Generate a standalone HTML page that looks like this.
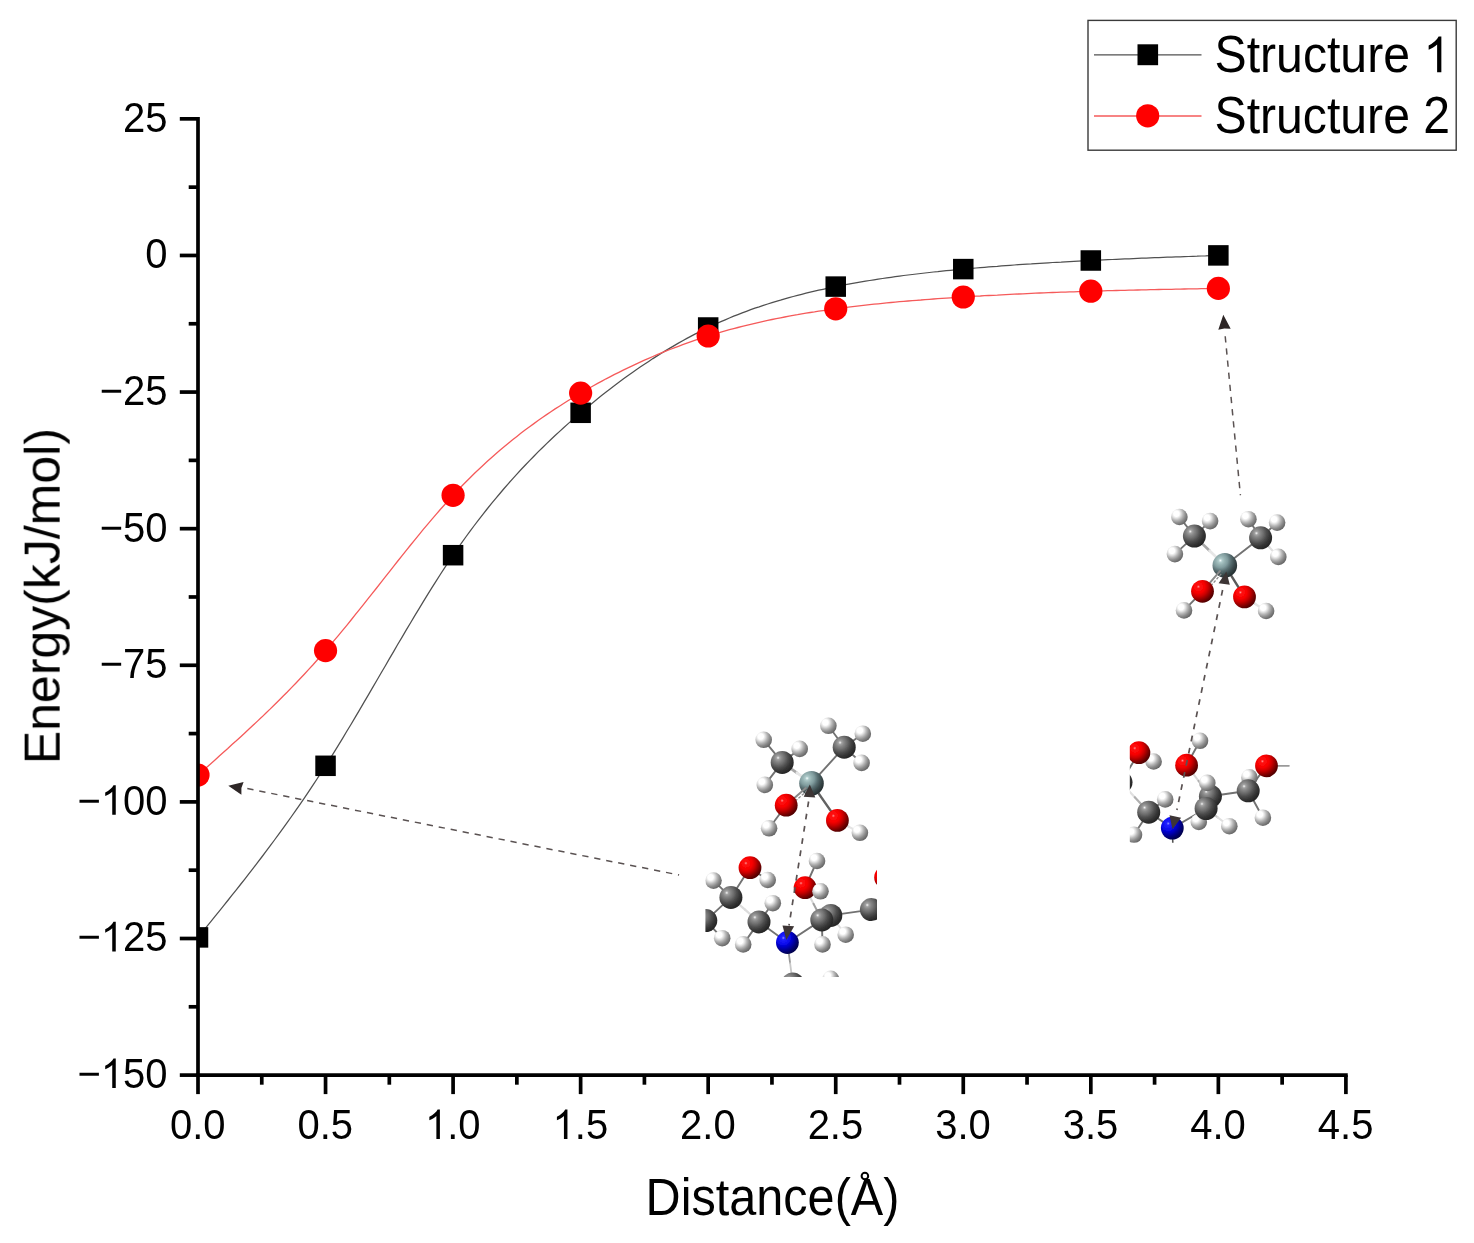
<!DOCTYPE html>
<html><head><meta charset="utf-8"><title>Energy vs Distance</title>
<style>html,body{margin:0;padding:0;background:#fff;}svg{display:block;}text{font-family:"Liberation Sans",sans-serif;fill:#000;}.t{opacity:0.999;}</style>
</head><body>
<svg width="1474" height="1243" viewBox="0 0 1474 1243">
<defs>
<radialGradient id="gH" cx="0.32" cy="0.3" r="0.84" fx="0.32" fy="0.3">
<stop offset="0" stop-color="#ffffff"/>
<stop offset="0.2" stop-color="#ffffff"/>
<stop offset="0.32" stop-color="#e2e2e2"/>
<stop offset="0.48" stop-color="#b6b6b6"/>
<stop offset="0.66" stop-color="#8c8c8c"/>
<stop offset="0.85" stop-color="#6a6a6a"/>
<stop offset="1" stop-color="#565656"/>
</radialGradient>
<radialGradient id="gC" cx="0.32" cy="0.3" r="0.84" fx="0.32" fy="0.3">
<stop offset="0" stop-color="#f8f8f8"/>
<stop offset="0.04" stop-color="#d0d0d0"/>
<stop offset="0.09" stop-color="#a2a2a2"/>
<stop offset="0.2" stop-color="#888888"/>
<stop offset="0.35" stop-color="#6e6e6e"/>
<stop offset="0.52" stop-color="#4e4e4e"/>
<stop offset="0.7" stop-color="#343434"/>
<stop offset="0.86" stop-color="#262626"/>
<stop offset="1" stop-color="#1e1e1e"/>
</radialGradient>
<radialGradient id="gO" cx="0.32" cy="0.3" r="0.84" fx="0.32" fy="0.3">
<stop offset="0" stop-color="#ffa0a0"/>
<stop offset="0.04" stop-color="#ff5050"/>
<stop offset="0.09" stop-color="#ff1010"/>
<stop offset="0.33" stop-color="#f80000"/>
<stop offset="0.5" stop-color="#cc0000"/>
<stop offset="0.66" stop-color="#940000"/>
<stop offset="0.82" stop-color="#5e0000"/>
<stop offset="1" stop-color="#400000"/>
</radialGradient>
<radialGradient id="gN" cx="0.32" cy="0.3" r="0.84" fx="0.32" fy="0.3">
<stop offset="0" stop-color="#a0a0ff"/>
<stop offset="0.04" stop-color="#5858ff"/>
<stop offset="0.09" stop-color="#2020ff"/>
<stop offset="0.33" stop-color="#0a0aec"/>
<stop offset="0.5" stop-color="#0000bc"/>
<stop offset="0.66" stop-color="#000088"/>
<stop offset="0.82" stop-color="#000058"/>
<stop offset="1" stop-color="#00003a"/>
</radialGradient>
<radialGradient id="gS" cx="0.32" cy="0.3" r="0.84" fx="0.32" fy="0.3">
<stop offset="0" stop-color="#f8ffff"/>
<stop offset="0.04" stop-color="#d4e6e6"/>
<stop offset="0.09" stop-color="#aecaca"/>
<stop offset="0.2" stop-color="#98b4b4"/>
<stop offset="0.35" stop-color="#809c9e"/>
<stop offset="0.52" stop-color="#586e71"/>
<stop offset="0.7" stop-color="#3a4a4c"/>
<stop offset="0.86" stop-color="#283234"/>
<stop offset="1" stop-color="#1e2628"/>
</radialGradient>
<filter id="soft" x="-5%" y="-5%" width="110%" height="110%"><feGaussianBlur stdDeviation="0.55"/></filter>
<clipPath id="plotclip"><rect x="198.0" y="0" width="1474" height="1075.1"/></clipPath>
<clipPath id="molA"><rect x="705.4" y="700" width="171.6" height="276.9"/></clipPath>
<clipPath id="molB"><rect x="1129.8" y="480" width="170" height="362.7"/></clipPath>
</defs>
<rect width="1474" height="1243" fill="#fff"/>
<g clip-path="url(#plotclip)">
<path d="M198.0,937.4 L202.3,932.2 L206.5,926.9 L210.8,921.7 L215.0,916.4 L219.3,911.1 L223.5,905.9 L227.8,900.5 L232.0,895.2 L236.3,889.9 L240.5,884.5 L244.8,879.1 L249.0,873.6 L253.3,868.1 L257.5,862.6 L261.8,857.0 L266.0,851.4 L270.3,845.7 L274.5,840.0 L278.8,834.2 L283.0,828.4 L287.3,822.4 L291.5,816.5 L295.8,810.4 L300.0,804.3 L304.3,798.1 L308.5,791.8 L312.8,785.4 L317.0,779.0 L321.3,772.4 L325.5,765.8 L329.8,759.1 L334.0,752.3 L338.3,745.4 L342.6,738.4 L346.8,731.3 L351.1,724.2 L355.3,717.1 L359.6,709.9 L363.8,702.6 L368.1,695.4 L372.3,688.1 L376.6,680.8 L380.8,673.5 L385.1,666.2 L389.3,658.9 L393.6,651.6 L397.8,644.3 L402.1,637.1 L406.3,629.9 L410.6,622.7 L414.8,615.6 L419.1,608.6 L423.3,601.6 L427.6,594.7 L431.8,587.9 L436.1,581.1 L440.3,574.5 L444.6,567.9 L448.8,561.5 L453.1,555.2 L457.3,549.0 L461.6,542.9 L465.8,537.0 L470.1,531.2 L474.3,525.5 L478.6,519.9 L482.9,514.4 L487.1,509.0 L491.4,503.7 L495.6,498.6 L499.9,493.5 L504.1,488.5 L508.4,483.6 L512.6,478.8 L516.9,474.1 L521.1,469.5 L525.4,465.0 L529.6,460.6 L533.9,456.2 L538.1,451.9 L542.4,447.7 L546.6,443.6 L550.9,439.5 L555.1,435.5 L559.4,431.6 L563.6,427.7 L567.9,423.9 L572.1,420.1 L576.4,416.4 L580.6,412.8 L584.9,409.2 L589.1,405.7 L593.4,402.2 L597.6,398.7 L601.9,395.3 L606.1,392.0 L610.4,388.7 L614.6,385.4 L618.9,382.3 L623.2,379.1 L627.4,376.0 L631.7,373.0 L635.9,370.0 L640.2,367.1 L644.4,364.2 L648.7,361.4 L652.9,358.6 L657.2,355.9 L661.4,353.2 L665.7,350.6 L669.9,348.1 L674.2,345.6 L678.4,343.1 L682.7,340.7 L686.9,338.4 L691.2,336.1 L695.4,333.9 L699.7,331.7 L703.9,329.6 L708.2,327.5 L712.4,325.5 L716.7,323.5 L720.9,321.6 L725.2,319.8 L729.4,318.0 L733.7,316.2 L737.9,314.6 L742.2,312.9 L746.4,311.3 L750.7,309.7 L754.9,308.2 L759.2,306.8 L763.4,305.3 L767.7,304.0 L772.0,302.6 L776.2,301.3 L780.5,300.1 L784.7,298.8 L789.0,297.6 L793.2,296.5 L797.5,295.4 L801.7,294.3 L806.0,293.2 L810.2,292.2 L814.5,291.2 L818.7,290.2 L823.0,289.3 L827.2,288.4 L831.5,287.5 L835.7,286.6 L840.0,285.8 L844.2,284.9 L848.5,284.1 L852.7,283.4 L857.0,282.6 L861.2,281.9 L865.5,281.2 L869.7,280.5 L874.0,279.8 L878.2,279.1 L882.5,278.5 L886.7,277.9 L891.0,277.3 L895.2,276.7 L899.5,276.1 L903.7,275.5 L908.0,275.0 L912.3,274.5 L916.5,274.0 L920.8,273.5 L925.0,273.0 L929.3,272.5 L933.5,272.0 L937.8,271.6 L942.0,271.1 L946.3,270.7 L950.5,270.3 L954.8,269.9 L959.0,269.5 L963.3,269.1 L967.5,268.7 L971.8,268.3 L976.0,268.0 L980.3,267.6 L984.5,267.3 L988.8,266.9 L993.0,266.6 L997.3,266.3 L1001.5,265.9 L1005.8,265.6 L1010.0,265.3 L1014.3,265.0 L1018.5,264.7 L1022.8,264.4 L1027.0,264.1 L1031.3,263.9 L1035.5,263.6 L1039.8,263.3 L1044.0,263.1 L1048.3,262.8 L1052.6,262.5 L1056.8,262.3 L1061.1,262.1 L1065.3,261.8 L1069.6,261.6 L1073.8,261.4 L1078.1,261.1 L1082.3,260.9 L1086.6,260.7 L1090.8,260.5 L1095.1,260.3 L1099.3,260.1 L1103.6,259.9 L1107.8,259.7 L1112.1,259.5 L1116.3,259.3 L1120.6,259.1 L1124.8,258.9 L1129.1,258.8 L1133.3,258.6 L1137.6,258.4 L1141.8,258.2 L1146.1,258.1 L1150.3,257.9 L1154.6,257.7 L1158.8,257.6 L1163.1,257.4 L1167.3,257.2 L1171.6,257.1 L1175.8,256.9 L1180.1,256.8 L1184.3,256.6 L1188.6,256.5 L1192.9,256.3 L1197.1,256.2 L1201.4,256.0 L1205.6,255.9 L1209.9,255.7 L1214.1,255.6 L1218.4,255.4" fill="none" stroke="#505050" stroke-width="1.25"/>
<rect x="187.75" y="927.15" width="20.5" height="20.5" fill="#000"/>
<rect x="315.30" y="755.55" width="20.5" height="20.5" fill="#000"/>
<rect x="442.84" y="544.95" width="20.5" height="20.5" fill="#000"/>
<rect x="570.38" y="402.55" width="20.5" height="20.5" fill="#000"/>
<rect x="697.93" y="317.25" width="20.5" height="20.5" fill="#000"/>
<rect x="825.48" y="276.35" width="20.5" height="20.5" fill="#000"/>
<rect x="953.02" y="258.85" width="20.5" height="20.5" fill="#000"/>
<rect x="1080.57" y="250.25" width="20.5" height="20.5" fill="#000"/>
<rect x="1208.11" y="245.15" width="20.5" height="20.5" fill="#000"/>
<path d="M198.0,775.0 L202.3,771.2 L206.5,767.5 L210.8,763.7 L215.0,759.9 L219.3,756.1 L223.5,752.3 L227.8,748.5 L232.0,744.6 L236.3,740.8 L240.5,736.9 L244.8,733.0 L249.0,729.1 L253.3,725.1 L257.5,721.1 L261.8,717.1 L266.0,713.0 L270.3,708.9 L274.5,704.7 L278.8,700.5 L283.0,696.3 L287.3,692.0 L291.5,687.6 L295.8,683.2 L300.0,678.8 L304.3,674.2 L308.5,669.6 L312.8,665.0 L317.0,660.3 L321.3,655.5 L325.5,650.6 L329.8,645.7 L334.0,640.6 L338.3,635.6 L342.6,630.4 L346.8,625.3 L351.1,620.0 L355.3,614.7 L359.6,609.4 L363.8,604.1 L368.1,598.7 L372.3,593.4 L376.6,588.0 L380.8,582.6 L385.1,577.2 L389.3,571.8 L393.6,566.4 L397.8,561.0 L402.1,555.7 L406.3,550.3 L410.6,545.0 L414.8,539.8 L419.1,534.6 L423.3,529.4 L427.6,524.4 L431.8,519.3 L436.1,514.4 L440.3,509.5 L444.6,504.7 L448.8,499.9 L453.1,495.3 L457.3,490.8 L461.6,486.3 L465.8,482.0 L470.1,477.7 L474.3,473.5 L478.6,469.5 L482.9,465.5 L487.1,461.6 L491.4,457.7 L495.6,454.0 L499.9,450.3 L504.1,446.7 L508.4,443.2 L512.6,439.8 L516.9,436.4 L521.1,433.1 L525.4,429.8 L529.6,426.7 L533.9,423.6 L538.1,420.5 L542.4,417.5 L546.6,414.6 L550.9,411.7 L555.1,408.9 L559.4,406.2 L563.6,403.5 L567.9,400.8 L572.1,398.2 L576.4,395.6 L580.6,393.1 L584.9,390.6 L589.1,388.2 L593.4,385.8 L597.6,383.4 L601.9,381.1 L606.1,378.8 L610.4,376.6 L614.6,374.4 L618.9,372.3 L623.2,370.2 L627.4,368.1 L631.7,366.1 L635.9,364.1 L640.2,362.1 L644.4,360.2 L648.7,358.3 L652.9,356.5 L657.2,354.7 L661.4,352.9 L665.7,351.2 L669.9,349.5 L674.2,347.9 L678.4,346.3 L682.7,344.7 L686.9,343.1 L691.2,341.6 L695.4,340.2 L699.7,338.7 L703.9,337.4 L708.2,336.0 L712.4,334.7 L716.7,333.4 L720.9,332.1 L725.2,330.9 L729.4,329.7 L733.7,328.6 L737.9,327.5 L742.2,326.4 L746.4,325.3 L750.7,324.3 L754.9,323.3 L759.2,322.3 L763.4,321.3 L767.7,320.4 L772.0,319.5 L776.2,318.7 L780.5,317.8 L784.7,317.0 L789.0,316.2 L793.2,315.4 L797.5,314.7 L801.7,313.9 L806.0,313.2 L810.2,312.5 L814.5,311.9 L818.7,311.2 L823.0,310.6 L827.2,310.0 L831.5,309.4 L835.7,308.8 L840.0,308.2 L844.2,307.7 L848.5,307.1 L852.7,306.6 L857.0,306.1 L861.2,305.6 L865.5,305.1 L869.7,304.7 L874.0,304.2 L878.2,303.8 L882.5,303.3 L886.7,302.9 L891.0,302.5 L895.2,302.1 L899.5,301.7 L903.7,301.4 L908.0,301.0 L912.3,300.6 L916.5,300.3 L920.8,300.0 L925.0,299.6 L929.3,299.3 L933.5,299.0 L937.8,298.7 L942.0,298.4 L946.3,298.1 L950.5,297.8 L954.8,297.5 L959.0,297.3 L963.3,297.0 L967.5,296.7 L971.8,296.5 L976.0,296.2 L980.3,296.0 L984.5,295.7 L988.8,295.5 L993.0,295.3 L997.3,295.1 L1001.5,294.8 L1005.8,294.6 L1010.0,294.4 L1014.3,294.2 L1018.5,294.0 L1022.8,293.8 L1027.0,293.6 L1031.3,293.4 L1035.5,293.2 L1039.8,293.0 L1044.0,292.9 L1048.3,292.7 L1052.6,292.5 L1056.8,292.4 L1061.1,292.2 L1065.3,292.1 L1069.6,291.9 L1073.8,291.8 L1078.1,291.6 L1082.3,291.5 L1086.6,291.3 L1090.8,291.2 L1095.1,291.1 L1099.3,290.9 L1103.6,290.8 L1107.8,290.7 L1112.1,290.6 L1116.3,290.5 L1120.6,290.4 L1124.8,290.3 L1129.1,290.2 L1133.3,290.1 L1137.6,290.0 L1141.8,289.9 L1146.1,289.8 L1150.3,289.7 L1154.6,289.6 L1158.8,289.5 L1163.1,289.4 L1167.3,289.3 L1171.6,289.3 L1175.8,289.2 L1180.1,289.1 L1184.3,289.0 L1188.6,288.9 L1192.9,288.9 L1197.1,288.8 L1201.4,288.7 L1205.6,288.6 L1209.9,288.5 L1214.1,288.5 L1218.4,288.4" fill="none" stroke="#f55a5a" stroke-width="1.3"/>
<circle cx="198.00" cy="775.00" r="11.6" fill="#ff0000"/>
<circle cx="325.55" cy="650.60" r="11.6" fill="#ff0000"/>
<circle cx="453.09" cy="495.30" r="11.6" fill="#ff0000"/>
<circle cx="580.63" cy="393.10" r="11.6" fill="#ff0000"/>
<circle cx="708.18" cy="336.00" r="11.6" fill="#ff0000"/>
<circle cx="835.73" cy="308.80" r="11.6" fill="#ff0000"/>
<circle cx="963.27" cy="297.00" r="11.6" fill="#ff0000"/>
<circle cx="1090.82" cy="291.20" r="11.6" fill="#ff0000"/>
<circle cx="1218.36" cy="288.40" r="11.6" fill="#ff0000"/>
</g>
<g stroke="#000" stroke-width="3.7" fill="none" stroke-linecap="butt">
<path d="M198.0,117.00 V1076.95"/>
<path d="M196.15,1075.11 H1347.75"/>
<path d="M179.80,118.85 H198.00"/>
<path d="M188.70,187.16 H198.00"/>
<path d="M179.80,255.46 H198.00"/>
<path d="M188.70,323.76 H198.00"/>
<path d="M179.80,392.07 H198.00"/>
<path d="M188.70,460.37 H198.00"/>
<path d="M179.80,528.67 H198.00"/>
<path d="M188.70,596.98 H198.00"/>
<path d="M179.80,665.28 H198.00"/>
<path d="M188.70,733.59 H198.00"/>
<path d="M179.80,801.89 H198.00"/>
<path d="M188.70,870.19 H198.00"/>
<path d="M179.80,938.50 H198.00"/>
<path d="M188.70,1006.80 H198.00"/>
<path d="M179.80,1075.11 H198.00"/>
<path d="M198.00,1075.11 V1094.11"/>
<path d="M261.77,1075.11 V1084.70"/>
<path d="M325.55,1075.11 V1094.11"/>
<path d="M389.32,1075.11 V1084.70"/>
<path d="M453.09,1075.11 V1094.11"/>
<path d="M516.86,1075.11 V1084.70"/>
<path d="M580.63,1075.11 V1094.11"/>
<path d="M644.41,1075.11 V1084.70"/>
<path d="M708.18,1075.11 V1094.11"/>
<path d="M771.95,1075.11 V1084.70"/>
<path d="M835.73,1075.11 V1094.11"/>
<path d="M899.50,1075.11 V1084.70"/>
<path d="M963.27,1075.11 V1094.11"/>
<path d="M1027.04,1075.11 V1084.70"/>
<path d="M1090.82,1075.11 V1094.11"/>
<path d="M1154.59,1075.11 V1084.70"/>
<path d="M1218.36,1075.11 V1094.11"/>
<path d="M1282.13,1075.11 V1084.70"/>
<path d="M1345.90,1075.11 V1094.11"/>
</g>
<g class="t">
<text transform="translate(167.60,131.75) scale(1.0000,1.0500)" font-size="40" text-anchor="end">25</text>
<text transform="translate(167.60,268.36) scale(1.0000,1.0500)" font-size="40" text-anchor="end">0</text>
<text transform="translate(167.60,404.97) scale(1.0000,1.0500)" font-size="40" text-anchor="end">−25</text>
<text transform="translate(167.60,541.57) scale(1.0000,1.0500)" font-size="40" text-anchor="end">−50</text>
<text transform="translate(167.60,678.18) scale(1.0000,1.0500)" font-size="40" text-anchor="end">−75</text>
<g transform="translate(167.60,814.79)"><text transform="scale(1.0000,1.0500)" font-size="40" x="-90.10 -66.74 -44.49 -22.25" y="0">− 00</text><path transform="translate(-66.74,0) scale(0.01953,-0.02012)" d="M763,0 L583,0 L583,1147 Q518,1085 412.5,1023 Q307,961 223,930 L223,1104 Q374,1175 487,1276 Q600,1377 647,1472 L763,1472 Z" fill="#000"/></g>
<g transform="translate(167.60,951.40)"><text transform="scale(1.0000,1.0500)" font-size="40" x="-90.10 -66.74 -44.49 -22.25" y="0">− 25</text><path transform="translate(-66.74,0) scale(0.01953,-0.02012)" d="M763,0 L583,0 L583,1147 Q518,1085 412.5,1023 Q307,961 223,930 L223,1104 Q374,1175 487,1276 Q600,1377 647,1472 L763,1472 Z" fill="#000"/></g>
<g transform="translate(167.60,1088.01)"><text transform="scale(1.0000,1.0500)" font-size="40" x="-90.10 -66.74 -44.49 -22.25" y="0">− 50</text><path transform="translate(-66.74,0) scale(0.01953,-0.02012)" d="M763,0 L583,0 L583,1147 Q518,1085 412.5,1023 Q307,961 223,930 L223,1104 Q374,1175 487,1276 Q600,1377 647,1472 L763,1472 Z" fill="#000"/></g>
<text transform="translate(197.70,1139.00) scale(1.0000,1.0500)" font-size="40" text-anchor="middle">0.0</text>
<text transform="translate(325.25,1139.00) scale(1.0000,1.0500)" font-size="40" text-anchor="middle">0.5</text>
<g transform="translate(452.79,1139.00)"><text transform="scale(1.0000,1.0500)" font-size="40" x="-27.80 -5.56 5.56" y="0"> .0</text><path transform="translate(-27.80,0) scale(0.01953,-0.02012)" d="M763,0 L583,0 L583,1147 Q518,1085 412.5,1023 Q307,961 223,930 L223,1104 Q374,1175 487,1276 Q600,1377 647,1472 L763,1472 Z" fill="#000"/></g>
<g transform="translate(580.34,1139.00)"><text transform="scale(1.0000,1.0500)" font-size="40" x="-27.80 -5.56 5.56" y="0"> .5</text><path transform="translate(-27.80,0) scale(0.01953,-0.02012)" d="M763,0 L583,0 L583,1147 Q518,1085 412.5,1023 Q307,961 223,930 L223,1104 Q374,1175 487,1276 Q600,1377 647,1472 L763,1472 Z" fill="#000"/></g>
<text transform="translate(707.88,1139.00) scale(1.0000,1.0500)" font-size="40" text-anchor="middle">2.0</text>
<text transform="translate(835.43,1139.00) scale(1.0000,1.0500)" font-size="40" text-anchor="middle">2.5</text>
<text transform="translate(962.97,1139.00) scale(1.0000,1.0500)" font-size="40" text-anchor="middle">3.0</text>
<text transform="translate(1090.52,1139.00) scale(1.0000,1.0500)" font-size="40" text-anchor="middle">3.5</text>
<text transform="translate(1218.06,1139.00) scale(1.0000,1.0500)" font-size="40" text-anchor="middle">4.0</text>
<text transform="translate(1345.61,1139.00) scale(1.0000,1.0500)" font-size="40" text-anchor="middle">4.5</text>
<text transform="translate(772.50,1215.30) scale(1.0000,1.0700)" font-size="48.6" text-anchor="middle">Distance(A)</text>
<circle cx="864.9" cy="1176.0" r="3.3" fill="none" stroke="#000" stroke-width="2.0"/>
<text transform="translate(59.20,596.15) rotate(-90) scale(1.0000,1.0120)" font-size="50.0" text-anchor="middle">Energy(kJ/mol)</text>
</g>
<rect x="1088.0" y="20.4" width="368.2" height="129.8" fill="#fff" stroke="#3a3a3a" stroke-width="1.4"/>
<path d="M1094,54.9 H1201.5" stroke="#505050" stroke-width="1.25"/>
<rect x="1137.5" y="44.3" width="20.6" height="20.9" fill="#000"/>
<path d="M1094,116.0 H1201.5" stroke="#f55a5a" stroke-width="1.3"/>
<circle cx="1147.7" cy="115.8" r="11.6" fill="#ff0000"/>
<g transform="translate(1214.50,72.30)"><text transform="scale(1.0000,1.0920)" font-size="48.19" x="0.00 32.14 45.53 61.58 88.38 112.47 125.86 152.66 168.71 195.51 208.90" y="0">Structure  </text><path transform="translate(208.90,0) scale(0.02353,-0.02424)" d="M763,0 L583,0 L583,1147 Q518,1085 412.5,1023 Q307,961 223,930 L223,1104 Q374,1175 487,1276 Q600,1377 647,1472 L763,1472 Z" fill="#000"/></g>
<text transform="translate(1214.50,132.90) scale(1.0000,1.0920)" font-size="48.19" text-anchor="start">Structure 2</text>
<path d="M247.3,788.6 L679.1,875.0" stroke="#5a5252" stroke-width="1.5" stroke-dasharray="6.3 5.9" fill="none"/>
<path d="M228.3,785.8 L243.6,782.0 L241.4,788.1 L241.4,794.7 Z" fill="#2e2727"/>
<path d="M1225.2,336.2 L1240.4,495.2" stroke="#5a5252" stroke-width="1.5" stroke-dasharray="6.3 5.9" fill="none"/>
<path d="M1223.3,314.8 L1218.3,329.7 L1224.3,328.5 L1230.7,328.7 Z" fill="#2e2727"/>
<g clip-path="url(#molA)"><g filter="url(#soft)">
<path d="M844.2,747.2 L828.4,725.8" stroke="#727272" stroke-width="1.9" stroke-linecap="round"/>
<path d="M844.2,747.2 L862.8,733.7" stroke="#727272" stroke-width="1.9" stroke-linecap="round"/>
<path d="M844.2,747.2 L861.6,762.9" stroke="#727272" stroke-width="1.9" stroke-linecap="round"/>
<path d="M782.2,762.4 L763.7,739.8" stroke="#727272" stroke-width="1.9" stroke-linecap="round"/>
<path d="M782.2,762.4 L799.7,748.9" stroke="#727272" stroke-width="1.9" stroke-linecap="round"/>
<path d="M782.2,762.4 L764.8,784.9" stroke="#727272" stroke-width="1.9" stroke-linecap="round"/>
<path d="M786.2,805.2 L769.1,828.3" stroke="#727272" stroke-width="1.9" stroke-linecap="round"/>
<path d="M844.2,747.2 L811.5,783.2" stroke="#727272" stroke-width="1.9" stroke-linecap="round"/>
<path d="M782.2,762.4 L796.9,772.8" stroke="#a8a8a8" stroke-width="2.7" stroke-linecap="round"/><path d="M796.9,772.8 L811.5,783.2" stroke="#e6e6e6" stroke-width="2.7" stroke-linecap="round"/>
<path d="M811.5,783.2 L837.4,820.4" stroke="#626262" stroke-width="2.4" stroke-linecap="round"/>
<path d="M837.4,820.4 L848.6,826.6" stroke="#d0d0d0" stroke-width="2.2" stroke-linecap="round"/><path d="M848.6,826.6 L859.9,832.8" stroke="#e4e4e4" stroke-width="2.2" stroke-linecap="round"/>
<circle cx="763.7" cy="739.8" r="8.3" fill="url(#gH)"/>
<circle cx="799.7" cy="748.9" r="8.3" fill="url(#gH)"/>
<circle cx="828.4" cy="725.8" r="8.3" fill="url(#gH)"/>
<circle cx="862.8" cy="733.7" r="8.3" fill="url(#gH)"/>
<circle cx="861.6" cy="762.9" r="8.3" fill="url(#gH)"/>
<circle cx="844.2" cy="747.2" r="11.5" fill="url(#gC)"/>
<circle cx="782.2" cy="762.4" r="11.5" fill="url(#gC)"/>
<circle cx="764.8" cy="784.9" r="8.3" fill="url(#gH)"/>
<circle cx="769.1" cy="828.3" r="8.3" fill="url(#gH)"/>
<circle cx="859.9" cy="832.8" r="8.3" fill="url(#gH)"/>
<circle cx="811.5" cy="783.2" r="12.3" fill="url(#gS)"/>
<path d="M805.8,788.1 L786.2,805.2" stroke="#8a8a8a" stroke-width="2.0" stroke-linecap="round"/>
<path d="M795.2,801.1 L808.1,789.9" stroke="#8c8c8c" stroke-width="1.3" stroke-dasharray="2.8 1.6" fill="none"/>
<circle cx="786.2" cy="805.2" r="11.4" fill="url(#gO)"/>
<circle cx="837.4" cy="820.4" r="11.4" fill="url(#gO)"/>
<path d="M750.0,867.7 L730.9,897.4" stroke="#727272" stroke-width="1.9" stroke-linecap="round"/>
<path d="M730.9,897.4 L713.5,880.6" stroke="#727272" stroke-width="1.9" stroke-linecap="round"/>
<path d="M730.9,897.4 L705.8,920.6" stroke="#727272" stroke-width="1.9" stroke-linecap="round"/>
<path d="M705.8,920.6 L722.2,938.2" stroke="#727272" stroke-width="1.9" stroke-linecap="round"/>
<path d="M759.0,921.9 L772.8,903.2" stroke="#727272" stroke-width="1.9" stroke-linecap="round"/>
<path d="M759.0,921.9 L743.2,944.4" stroke="#727272" stroke-width="1.9" stroke-linecap="round"/>
<path d="M759.0,921.9 L787.4,942.5" stroke="#727272" stroke-width="1.9" stroke-linecap="round"/>
<path d="M787.4,942.5 L821.8,919.9" stroke="#727272" stroke-width="1.9" stroke-linecap="round"/>
<path d="M805.1,887.7 L817.0,861.0" stroke="#727272" stroke-width="1.9" stroke-linecap="round"/>
<path d="M830.8,915.4 L871.4,909.6" stroke="#727272" stroke-width="1.9" stroke-linecap="round"/>
<path d="M821.8,919.9 L822.5,944.4" stroke="#727272" stroke-width="1.9" stroke-linecap="round"/>
<path d="M750.0,867.7 L767.7,880.0" stroke="#727272" stroke-width="1.9" stroke-linecap="round"/>
<path d="M730.9,897.4 L745.0,909.6" stroke="#dcdcdc" stroke-width="2.2" stroke-linecap="round"/><path d="M745.0,909.6 L759.0,921.9" stroke="#dcdcdc" stroke-width="2.2" stroke-linecap="round"/>
<path d="M830.8,915.4 L838.2,925.0" stroke="#c8c8c8" stroke-width="2.0" stroke-linecap="round"/><path d="M838.2,925.0 L845.7,934.7" stroke="#e0e0e0" stroke-width="2.0" stroke-linecap="round"/>
<path d="M787.4,942.5 L790.1,963.2" stroke="#9a9a9a" stroke-width="1.8" stroke-linecap="round"/><path d="M790.1,963.2 L792.8,984.0" stroke="#c8c8c8" stroke-width="1.8" stroke-linecap="round"/>
<path d="M805.1,887.7 L813.5,903.8" stroke="#d8d8d8" stroke-width="2.0" stroke-linecap="round"/><path d="M813.5,903.8 L821.8,919.9" stroke="#a0a0a0" stroke-width="2.0" stroke-linecap="round"/>
<circle cx="885.6" cy="877.4" r="11.4" fill="url(#gO)"/>
<circle cx="871.4" cy="909.6" r="11.5" fill="url(#gC)"/>
<circle cx="830.8" cy="915.4" r="11.5" fill="url(#gC)"/>
<circle cx="845.7" cy="934.7" r="8.3" fill="url(#gH)"/>
<circle cx="822.5" cy="944.4" r="8.3" fill="url(#gH)"/>
<circle cx="805.1" cy="887.7" r="11.4" fill="url(#gO)"/>
<circle cx="817.0" cy="861.0" r="8.3" fill="url(#gH)"/>
<circle cx="820.5" cy="891.3" r="8.3" fill="url(#gH)"/>
<circle cx="821.8" cy="919.9" r="11.5" fill="url(#gC)"/>
<circle cx="713.5" cy="880.6" r="8.3" fill="url(#gH)"/>
<circle cx="767.7" cy="880.0" r="8.3" fill="url(#gH)"/>
<circle cx="750.0" cy="867.7" r="11.4" fill="url(#gO)"/>
<circle cx="705.8" cy="920.6" r="11.5" fill="url(#gC)"/>
<circle cx="722.2" cy="938.2" r="8.3" fill="url(#gH)"/>
<circle cx="730.9" cy="897.4" r="11.5" fill="url(#gC)"/>
<circle cx="772.8" cy="903.2" r="8.3" fill="url(#gH)"/>
<circle cx="743.2" cy="944.4" r="8.3" fill="url(#gH)"/>
<circle cx="759.0" cy="921.9" r="11.5" fill="url(#gC)"/>
<circle cx="787.4" cy="942.5" r="11.4" fill="url(#gN)"/>
<circle cx="792.8" cy="984.0" r="11.5" fill="url(#gC)"/>
<circle cx="830.8" cy="978.8" r="8.3" fill="url(#gH)"/>
</g></g>
<path d="M808.6,801.5 L789.0,925.5" stroke="#5a5252" stroke-width="1.7" stroke-dasharray="5.8 6.6" fill="none"/>
<path d="M809.8,784.4 L803.7,796.7 L815.3,797.6 Z" fill="#3d3535"/>
<path d="M786.4,940.0 L782.5,925.4 L794.1,926.3 Z" fill="#3d3535"/>
<g clip-path="url(#molB)"><g filter="url(#soft)">
<path d="M1194.4,536.1 L1179.4,517.0" stroke="#727272" stroke-width="1.9" stroke-linecap="round"/>
<path d="M1194.4,536.1 L1210.1,521.1" stroke="#727272" stroke-width="1.9" stroke-linecap="round"/>
<path d="M1194.4,536.1 L1174.9,554.1" stroke="#727272" stroke-width="1.9" stroke-linecap="round"/>
<path d="M1260.6,537.8 L1248.4,519.2" stroke="#727272" stroke-width="1.9" stroke-linecap="round"/>
<path d="M1260.6,537.8 L1277.1,522.6" stroke="#727272" stroke-width="1.9" stroke-linecap="round"/>
<path d="M1202.5,591.3 L1184.0,610.4" stroke="#727272" stroke-width="1.9" stroke-linecap="round"/>
<path d="M1260.6,537.8 L1224.8,565.4" stroke="#727272" stroke-width="1.9" stroke-linecap="round"/>
<path d="M1260.6,537.8 L1269.4,547.3" stroke="#d0d0d0" stroke-width="2.2" stroke-linecap="round"/><path d="M1269.4,547.3 L1278.3,556.9" stroke="#e0e0e0" stroke-width="2.2" stroke-linecap="round"/>
<path d="M1194.4,536.1 L1209.6,550.8" stroke="#a8a8a8" stroke-width="2.7" stroke-linecap="round"/><path d="M1209.6,550.8 L1224.8,565.4" stroke="#e6e6e6" stroke-width="2.7" stroke-linecap="round"/>
<path d="M1224.8,565.4 L1244.5,596.9" stroke="#5a5a5a" stroke-width="2.4" stroke-linecap="round"/>
<path d="M1244.5,596.9 L1255.3,604.0" stroke="#d0d0d0" stroke-width="2.2" stroke-linecap="round"/><path d="M1255.3,604.0 L1266.1,611.0" stroke="#e4e4e4" stroke-width="2.2" stroke-linecap="round"/>
<circle cx="1179.4" cy="517.0" r="8.3" fill="url(#gH)"/>
<circle cx="1210.1" cy="521.1" r="8.3" fill="url(#gH)"/>
<circle cx="1248.4" cy="519.2" r="8.3" fill="url(#gH)"/>
<circle cx="1277.1" cy="522.6" r="8.3" fill="url(#gH)"/>
<circle cx="1194.4" cy="536.1" r="11.5" fill="url(#gC)"/>
<circle cx="1260.6" cy="537.8" r="11.5" fill="url(#gC)"/>
<circle cx="1174.9" cy="554.1" r="8.3" fill="url(#gH)"/>
<circle cx="1278.3" cy="556.9" r="8.3" fill="url(#gH)"/>
<circle cx="1184.0" cy="610.4" r="8.3" fill="url(#gH)"/>
<circle cx="1266.1" cy="611.0" r="8.3" fill="url(#gH)"/>
<circle cx="1224.8" cy="565.4" r="12.3" fill="url(#gS)"/>
<path d="M1219.9,571.1 L1202.5,591.3" stroke="#8a8a8a" stroke-width="2.0" stroke-linecap="round"/>
<path d="M1210.8,585.9 L1222.4,572.5" stroke="#8c8c8c" stroke-width="1.3" stroke-dasharray="2.8 1.6" fill="none"/>
<circle cx="1202.5" cy="591.3" r="11.4" fill="url(#gO)"/>
<circle cx="1244.5" cy="596.9" r="11.4" fill="url(#gO)"/>
<path d="M1138.9,752.7 L1121.0,782.3" stroke="#727272" stroke-width="1.9" stroke-linecap="round"/>
<path d="M1148.7,812.2 L1134.0,834.8" stroke="#727272" stroke-width="1.9" stroke-linecap="round"/>
<path d="M1148.7,812.2 L1172.3,828.1" stroke="#727272" stroke-width="1.9" stroke-linecap="round"/>
<path d="M1172.3,828.1 L1206.1,808.5" stroke="#727272" stroke-width="1.9" stroke-linecap="round"/>
<path d="M1186.6,765.2 L1200.0,740.8" stroke="#727272" stroke-width="1.9" stroke-linecap="round"/>
<path d="M1210.4,796.3 L1248.2,790.8" stroke="#727272" stroke-width="1.9" stroke-linecap="round"/>
<path d="M1248.2,790.8 L1266.5,765.8" stroke="#727272" stroke-width="1.9" stroke-linecap="round"/>
<path d="M1248.2,790.8 L1262.9,817.7" stroke="#727272" stroke-width="1.9" stroke-linecap="round"/>
<path d="M1148.7,812.2 L1165.2,799.4" stroke="#727272" stroke-width="1.9" stroke-linecap="round"/>
<path d="M1266.5,765.8 L1288.9,765.8" stroke="#9a9a9a" stroke-width="1.8" stroke-linecap="round"/>
<path d="M1121.0,782.3 L1134.8,797.2" stroke="#e0e0e0" stroke-width="2.2" stroke-linecap="round"/><path d="M1134.8,797.2 L1148.7,812.2" stroke="#b0b0b0" stroke-width="2.2" stroke-linecap="round"/>
<path d="M1186.6,765.2 L1198.5,780.8" stroke="#d8d8d8" stroke-width="2.0" stroke-linecap="round"/><path d="M1198.5,780.8 L1210.4,796.3" stroke="#b0b0b0" stroke-width="2.0" stroke-linecap="round"/>
<path d="M1206.1,808.5 L1217.7,817.4" stroke="#c8c8c8" stroke-width="2.0" stroke-linecap="round"/><path d="M1217.7,817.4 L1229.3,826.2" stroke="#e0e0e0" stroke-width="2.0" stroke-linecap="round"/>
<path d="M1172.3,828.1 L1172.8,843.0" stroke="#555" stroke-width="1.6" stroke-linecap="round"/>
<circle cx="1121.0" cy="782.3" r="11.5" fill="url(#gC)"/>
<circle cx="1249.4" cy="777.4" r="8.3" fill="url(#gH)"/>
<circle cx="1266.5" cy="765.8" r="11.4" fill="url(#gO)"/>
<circle cx="1248.2" cy="790.8" r="11.5" fill="url(#gC)"/>
<circle cx="1262.9" cy="817.7" r="8.3" fill="url(#gH)"/>
<circle cx="1200.0" cy="740.8" r="8.3" fill="url(#gH)"/>
<circle cx="1186.6" cy="765.2" r="11.4" fill="url(#gO)"/>
<circle cx="1210.4" cy="796.3" r="11.5" fill="url(#gC)"/>
<circle cx="1207.3" cy="782.9" r="8.3" fill="url(#gH)"/>
<circle cx="1198.8" cy="822.0" r="8.3" fill="url(#gH)"/>
<circle cx="1206.1" cy="808.5" r="11.5" fill="url(#gC)"/>
<circle cx="1229.3" cy="826.2" r="8.3" fill="url(#gH)"/>
<circle cx="1153.6" cy="761.5" r="8.3" fill="url(#gH)"/>
<circle cx="1138.9" cy="752.7" r="11.4" fill="url(#gO)"/>
<circle cx="1165.2" cy="799.4" r="8.3" fill="url(#gH)"/>
<circle cx="1148.7" cy="812.2" r="11.5" fill="url(#gC)"/>
<circle cx="1134.0" cy="834.8" r="8.3" fill="url(#gH)"/>
<circle cx="1172.3" cy="828.1" r="11.4" fill="url(#gN)"/>
</g></g>
<path d="M1222.6,590.0 L1176.9,810.0" stroke="#5a5252" stroke-width="1.7" stroke-dasharray="5.8 6.6" fill="none"/>
<path d="M1226.4,571.6 L1218.6,583.2 L1229.8,584.8 Z" fill="#3d3535"/>
<path d="M1172.5,829.3 L1169.5,815.2 L1181.1,817.7 Z" fill="#3d3535"/>
</svg>
</body></html>
